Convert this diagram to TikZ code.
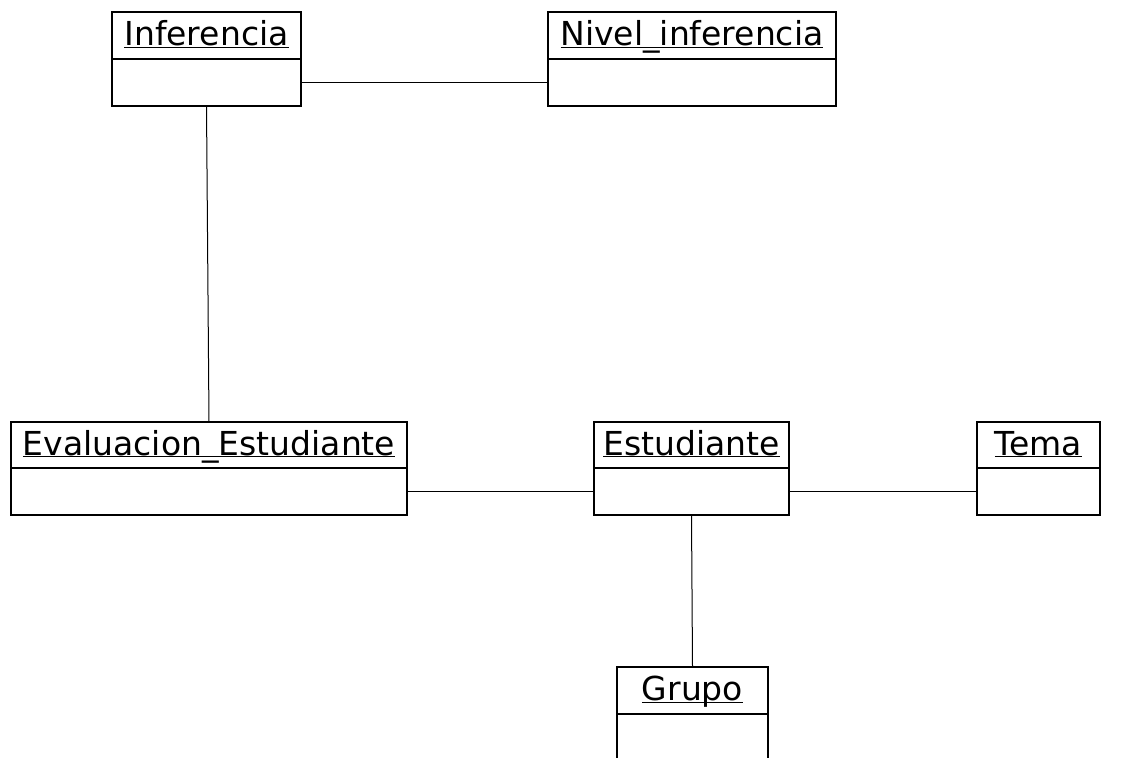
\documentclass[tikz,border=0pt]{standalone}
\usepackage{fontspec}
\setmainfont{DejaVu Sans}
\usetikzlibrary{positioning}
\newcommand{\objname}[1]{\underline{\smash{#1}}}
\tikzstyle{Head} = [rectangle, draw=black, line width=1.5pt, outer sep=0pt, inner sep=0pt, anchor=north west, minimum height=47pt, text height=28pt, text depth=8pt, font=\fontsize{33}{33}\selectfont]
\tikzstyle{Attr} = [rectangle, draw=black, line width=1.5pt, outer sep=0pt, inner sep=0pt, minimum height=47pt]
\tikzstyle{link} = [line width=1pt]

\begin{document}
\begin{tikzpicture}[x=1pt,y=-1pt]
\useasboundingbox (0,0) rectangle (1131,757);

\node (Inferencia)[Head, minimum width=189pt] at (112,12) {\objname{Inferencia}};
\node (Inferencia attr)[Attr, minimum width=189pt, below=0pt of Inferencia] {};

\node (Nivel inferencia)[Head, minimum width=288pt] at (548,12) {\objname{Nivel\_inferencia}};
\node (Nivel inferencia attr)[Attr, minimum width=288pt, below=0pt of Nivel inferencia] {};

\node (Evaluacion)[Head, minimum width=396pt, minimum height=46pt] at (11,422) {\objname{Evaluacion\_Estudiante}};
\node (Evaluacion attr)[Attr, minimum width=396pt, below=0pt of Evaluacion] {};

\node (Estudiante)[Head, minimum width=195pt, minimum height=46pt] at (594,422) {\objname{Estudiante}};
\node (Estudiante attr)[Attr, minimum width=195pt, below=0pt of Estudiante] {};

\node (Tema)[Head, minimum width=123pt, minimum height=46pt] at (977,422) {\objname{Tema}};
\node (Tema attr)[Attr, minimum width=123pt, below=0pt of Tema] {};

\node (Grupo)[Head, minimum width=151pt] at (617,667) {\objname{Grupo}};
\node (Grupo attr)[Attr, minimum width=151pt, below=0pt of Grupo] {};

\draw[link](Inferencia attr.east)--(Nivel inferencia attr.west);
\draw[link](Inferencia attr.south)--(Evaluacion.north);
\draw[link](Evaluacion attr.east)--(Estudiante attr.west);
\draw[link](Estudiante attr.east)--(Tema attr.west);
\draw[link](Estudiante attr.south)--(Grupo.north);

\end{tikzpicture}
\end{document}
